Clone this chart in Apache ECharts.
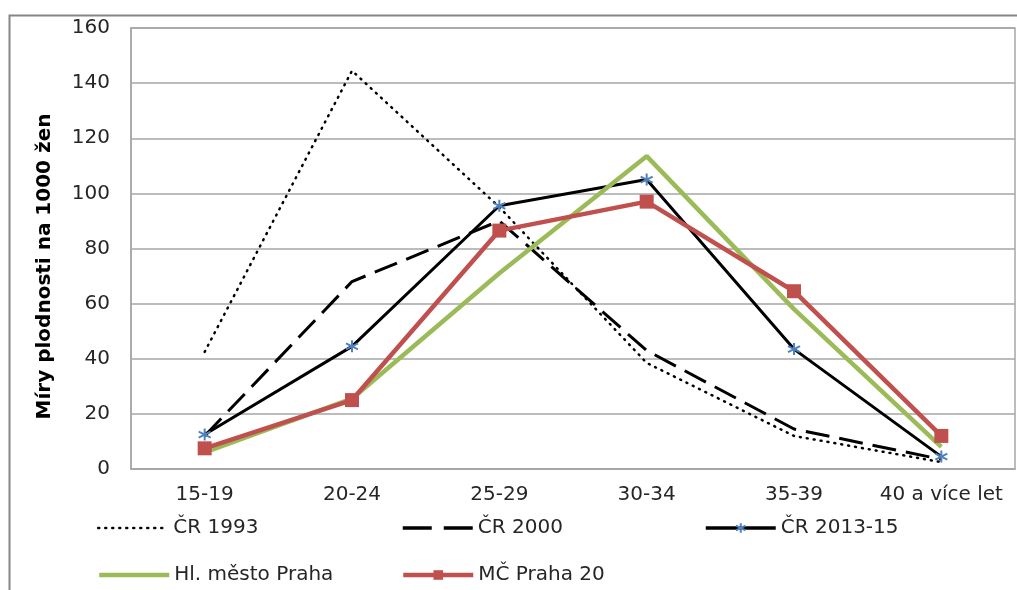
<!DOCTYPE html>
<html>
<head>
<meta charset="utf-8">
<script src="https://cdn.jsdelivr.net/npm/echarts@6/dist/echarts.min.js"></script>
<style>
  html, body { margin: 0; padding: 0; background: #fff; }
  #chart { width: 1017px; height: 590px; }
</style>
</head>
<body>
<div id="chart"></div>
<script>
// age groups and fertility rates per 1000 women
const ageGroups = ['15-19', '20-24', '25-29', '30-34', '35-39', '40 a více let']
const cr1993 = [42.5, 144.5, 95, 38.5, 12, 2.5]
const cr2000 = [12, 68, 90, 43, 14.5, 3.5]
const cr2013 = [12.5, 44.5, 95.5, 105, 43.5, 4.5]
const praha = [6, 25.5, 71, 113.5, 58, 8]
const praha20 = [7.5, 25, 86.5, 97, 64.5, 12]

const FONT = '"DejaVu Sans", Verdana, sans-serif'
const TEXT_COLOR = '#262626'
const GRID_COLOR = '#a6a6a6'
const STAR = 'path://M5,0L5,10M0.67,2.5L9.33,7.5M0.67,7.5L9.33,2.5'

const chart = echarts.init(document.getElementById('chart'))

// one legend per entry so every item sits where the original has it
function legendFor(name, left, top, lineStyle, noSymbol) {
  const lg = {
    data: [name],
    left: left,
    top: top,
    padding: 0,
    itemWidth: 70,
    itemHeight: 12,
    itemGap: 0,
    selectedMode: false,
    lineStyle: lineStyle,
    textStyle: { fontSize: 20, color: TEXT_COLOR, fontFamily: FONT, lineHeight: 20 },
  }
  if (noSymbol) lg.itemStyle = { color: 'transparent', borderWidth: 0, opacity: 0 }
  return lg
}

const option = {
  animation: false,
  backgroundColor: '#fff',
  graphic: [
    {
      type: 'rect',
      left: 7,
      top: 13,
      shape: { width: 1040, height: 620 },
      style: { fill: 'none', stroke: '#868686', lineWidth: 2 },
      silent: true,
    },
  ],
  grid: {
    left: 131,
    right: 2,
    top: 28,
    bottom: 121,
    show: true,
    borderColor: GRID_COLOR,
    borderWidth: 1.5,
  },
  legend: [
    legendFor('ČR 1993', 97, 518, { width: 2.5, type: [1, 6], cap: 'round' }, true),
    legendFor('ČR 2000', 401, 518, { width: 3.5, type: [29, 12] }, true),
    legendFor('ČR 2013-15', 704, 518, { width: 3.5 }, false),
    legendFor('Hl. město Praha', 97, 565, { width: 4.5 }, true),
    legendFor('MČ Praha 20', 401, 565, { width: 4.5 }, false),
  ],
  xAxis: {
    type: 'category',
    data: ageGroups,
    boundaryGap: true,
    axisLine: { show: true, lineStyle: { color: GRID_COLOR, width: 1.5 } },
    axisTick: { show: false },
    axisLabel: { margin: 16, fontSize: 20, color: TEXT_COLOR, fontFamily: FONT, interval: 0 },
    splitLine: { show: false },
  },
  yAxis: {
    type: 'value',
    min: 0,
    max: 160,
    interval: 20,
    name: 'Míry plodnosti na 1000 žen',
    nameLocation: 'middle',
    nameGap: 76,
    nameRotate: 90,
    nameTextStyle: {
      fontSize: 20,
      fontWeight: 'bold',
      color: '#000',
      fontFamily: FONT,
      padding: [0, 36, 0, 0],
    },
    axisLine: { show: true, lineStyle: { color: GRID_COLOR, width: 1.5 } },
    axisTick: { show: false },
    axisLabel: { margin: 21, fontSize: 20, color: TEXT_COLOR, fontFamily: FONT },
    splitLine: { show: true, lineStyle: { color: GRID_COLOR, width: 1.5 } },
  },
  series: [
    {
      name: 'ČR 1993',
      type: 'line',
      data: cr1993,
      symbol: 'none',
      lineStyle: { color: '#000', width: 2.5, type: [1, 6], cap: 'round' },
      itemStyle: { color: '#000' },
    },
    {
      name: 'ČR 2000',
      type: 'line',
      data: cr2000,
      symbol: 'none',
      lineStyle: { color: '#000', width: 3, type: [24, 10] },
      itemStyle: { color: '#000' },
    },
    {
      name: 'ČR 2013-15',
      type: 'line',
      data: cr2013,
      symbol: STAR,
      symbolSize: 12,
      lineStyle: { color: '#000', width: 3 },
      itemStyle: { color: '#4f81bd', borderColor: '#4f81bd', borderWidth: 2 },
    },
    {
      name: 'Hl. město Praha',
      type: 'line',
      data: praha,
      symbol: 'none',
      lineStyle: { color: '#9bbb59', width: 4.5 },
      itemStyle: { color: '#9bbb59' },
    },
    {
      name: 'MČ Praha 20',
      type: 'line',
      data: praha20,
      symbol: 'rect',
      symbolSize: 14,
      lineStyle: { color: '#c0504d', width: 4.5 },
      itemStyle: { color: '#c0504d' },
    },
  ],
}

chart.setOption(option)
</script>
</body>
</html>
